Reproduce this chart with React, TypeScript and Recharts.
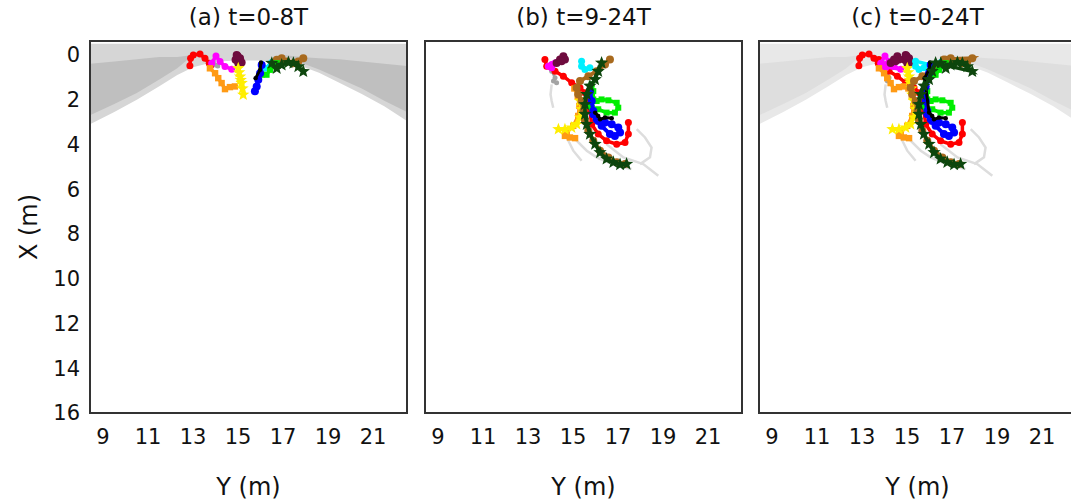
import React from 'react';
import { ComposedChart, Scatter, Area, XAxis, YAxis, ReferenceArea } from 'recharts';

type Pt = [number, number]; // [Y (m), X (m)]

const yTicks = [9, 11, 13, 15, 17, 19, 21];
const xTicks = [0, 2, 4, 6, 8, 10, 12, 14, 16];
const titles = ['(a) t=0-8T', '(b) t=9-24T', '(c) t=0-24T'];

// gray cloud of all drifter positions (panels a and c)
const bandY = [8.42, 9.5, 10.5, 11.5, 12.3, 13.0, 14.0, 15.0, 16.0, 17.0, 17.8, 18.6, 19.5, 20.5, 21.5, 22.51];
const bandTop = [-0.5, -0.5, -0.5, -0.5, -0.5, -0.5, -0.5, -0.5, -0.5, -0.5, -0.5, -0.5, -0.5, -0.5, -0.5, -0.5];
const bandBottom = [3.1, 2.55, 2.0, 1.4, 0.9, 0.55, 0.3, 0.25, 0.25, 0.35, 0.5, 0.8, 1.25, 1.75, 2.3, 2.95];
const coreTop = [0.4, 0.3, 0.2, 0.1, 0.1, 0.0, 0.0, 0.0, 0.0, 0.0, 0.1, 0.15, 0.2, 0.3, 0.4, 0.5];
const coreBottom = [2.7, 2.2, 1.7, 1.1, 0.6, 0.0, 0.0, 0.0, 0.0, 0.0, 0.35, 0.65, 1.05, 1.5, 2.05, 2.55];

// t = 0-8T
const redA: Pt[] = [[12.86, 0.49], [12.89, 0.15], [13.01, 0.0], [13.31, -0.04], [13.53, 0.15], [13.72, 0.37], [13.78, 0.49]];
const magentaA: Pt[] = [[13.83, 0.37], [14.02, 0.05], [14.2, 0.3], [14.42, 0.52], [14.72, 0.64]];
const orangeA: Pt[] = [[13.75, 0.6], [13.98, 0.82], [14.12, 1.04], [14.27, 1.26], [14.42, 1.53], [14.64, 1.44], [14.86, 1.41]];
const maroonA: Pt[] = [[14.94, 0.0], [14.89, 0.22], [15.01, 0.37], [15.16, 0.34], [15.09, 0.15], [14.98, 0.05]];
const yellowA: Pt[] = [[15.01, 0.6], [15.05, 0.78], [15.09, 0.97], [15.12, 1.12], [15.16, 1.26], [15.2, 1.5], [15.23, 1.78]];
const blueA: Pt[] = [[16.05, 0.45], [15.98, 0.82], [15.9, 1.11], [15.83, 1.41], [15.75, 1.63]];
const blackA: Pt[] = [[16.02, 0.34], [15.98, 0.67], [15.78, 1.04]];
const cyanA: Pt[] = [[16.5, 0.34], [16.42, 0.52], [16.2, 0.6], [16.05, 0.45]];
const greenA: Pt[] = [[16.72, 0.37], [16.57, 0.52], [16.42, 0.67], [16.27, 0.89], [16.05, 0.89]];
const brownA: Pt[] = [[16.72, 0.22], [16.94, 0.15], [17.16, 0.3], [17.46, 0.37], [17.68, 0.3], [17.9, 0.15]];
const darkGreenA: Pt[] = [[16.5, 0.37], [16.72, 0.6], [16.94, 0.45], [17.24, 0.34], [17.46, 0.37], [17.68, 0.52], [17.9, 0.74]];
const grayA: Pt[] = [[13.9, 0.3], [14.0, 0.45], [14.1, 0.5]];

// t = 9-24T
const redB: Pt[] = [[13.75, 0.21], [13.83, 0.51], [14.2, 0.73], [14.57, 0.95], [14.94, 1.25], [15.31, 1.47], [15.53, 1.69], [15.75, 2.06], [15.75, 2.5], [15.83, 3.1], [16.12, 3.54], [16.49, 3.84], [16.94, 3.99], [17.31, 3.91], [17.46, 3.54], [17.46, 3.02]];
const magentaB: Pt[] = [[13.9, 0.51], [14.05, 0.43], [14.2, 0.36], [14.05, 0.58]];
const maroonB: Pt[] = [[14.27, 0.36], [14.42, 0.21], [14.57, 0.06], [14.64, 0.21], [14.49, 0.28]];
const grayB: Pt[] = [[14.05, 0.73], [14.2, 1.02], [14.13, 1.17], [14.27, 1.25]];
const cyanB: Pt[] = [[15.38, 0.28], [15.38, 0.51], [15.53, 0.65], [15.75, 0.58]];
const brownB: Pt[] = [[16.64, 0.21], [16.42, 0.43], [16.05, 0.73], [15.68, 0.95], [15.31, 1.17], [15.16, 1.47], [15.23, 1.76], [15.38, 2.06], [15.46, 2.51], [15.53, 2.95], [15.68, 3.39], [15.9, 3.84], [16.2, 4.28], [16.57, 4.58], [16.94, 4.8], [17.31, 4.88]];
const darkGreenB: Pt[] = [[16.27, 0.36], [16.12, 0.73], [15.98, 1.1], [15.75, 1.39], [15.61, 1.76], [15.53, 2.21], [15.53, 2.65], [15.61, 3.1], [15.75, 3.54], [15.98, 3.99], [16.2, 4.36], [16.49, 4.65], [16.79, 4.8], [17.09, 4.9], [17.38, 4.88]];
const orangeB: Pt[] = [[15.06, 1.5], [15.21, 1.84], [15.28, 2.28], [15.23, 2.73], [15.01, 3.17], [14.72, 3.47], [14.64, 3.62], [14.86, 3.69], [15.09, 3.72]];
const yellowB: Pt[] = [[15.31, 2.06], [15.38, 2.43], [15.31, 2.8], [15.16, 3.1], [14.94, 3.25], [14.64, 3.32], [14.35, 3.32]];
const greenB: Pt[] = [[15.83, 1.32], [15.9, 1.62], [15.9, 1.99], [16.05, 2.06], [16.27, 1.99], [16.57, 2.03], [16.94, 2.14], [17.01, 2.36], [16.86, 2.58], [16.49, 2.58], [16.12, 2.43], [15.83, 2.36], [15.68, 2.28]];
const blueB: Pt[] = [[15.75, 1.62], [15.83, 2.06], [15.9, 2.51], [16.05, 2.88], [16.27, 3.17], [16.64, 3.54], [16.86, 3.62], [17.09, 3.47], [17.01, 3.25], [16.72, 3.1], [16.42, 3.02], [16.12, 2.95], [15.9, 2.65]];
const blackB: Pt[] = [[15.98, 2.58], [16.12, 2.73], [16.2, 2.88], [16.42, 2.8], [16.72, 2.83]];

// faint gray tracks of other drifters
const faint1: Pt[] = [[14.72, 3.69], [15.01, 4.28], [15.38, 4.73]];
const faint2: Pt[] = [[16.49, 3.99], [17.24, 4.58], [18.12, 4.88], [18.79, 5.4]];
const faint3: Pt[] = [[17.83, 3.32], [18.2, 3.69], [18.49, 4.14], [18.42, 4.58], [17.98, 4.88]];
const faint4: Pt[] = [[14.05, 1.32], [14.0, 1.77], [14.05, 2.06], [14.12, 2.36]];
const faint5: Pt[] = [[15.01, 3.69], [15.61, 4.28], [16.05, 4.58], [16.9, 4.95], [17.6, 5.1]];

type Marker = 'circle' | 'square' | 'star' | 'none';
interface Track { name: string; color: string; marker: Marker; r: number; w: number; a: Pt[]; b: Pt[] }

const tracks: Track[] = [
  { name: 'gray', color: '#a3a3a3', marker: 'circle', r: 2.5, w: 2.5, a: grayA, b: grayB },
  { name: 'red', color: '#ff0000', marker: 'circle', r: 3.5, w: 3.5, a: redA, b: redB },
  { name: 'magenta', color: '#ff00ff', marker: 'circle', r: 3.5, w: 3.5, a: magentaA, b: magentaB },
  { name: 'maroon', color: '#6e0b3e', marker: 'circle', r: 4, w: 3.5, a: maroonA, b: maroonB },
  { name: 'orange', color: '#ff9a14', marker: 'square', r: 3.2, w: 3.5, a: orangeA, b: orangeB },
  { name: 'yellow', color: '#ffee00', marker: 'star', r: 6.5, w: 3.5, a: yellowA, b: yellowB },
  { name: 'cyan', color: '#00f0ff', marker: 'circle', r: 3.5, w: 3.5, a: cyanA, b: cyanB },
  { name: 'brown', color: '#a86a1e', marker: 'circle', r: 4, w: 4, a: brownA, b: brownB },
  { name: 'green', color: '#00ee00', marker: 'square', r: 3, w: 3.5, a: greenA, b: greenB },
  { name: 'blue', color: '#0000ff', marker: 'circle', r: 4, w: 4, a: blueA, b: blueB },
  { name: 'black', color: '#000000', marker: 'circle', r: 2.2, w: 3, a: blackA, b: blackB },
  { name: 'darkgreen', color: '#0d460d', marker: 'star', r: 7, w: 3.5, a: darkGreenA, b: darkGreenB },
];
const faintTracks: Pt[][] = [faint1, faint2, faint3, faint4, faint5];

const FONT = '"DejaVu Sans", sans-serif';
const toPts = (p: Pt[]) => p.map(([y, x]) => ({ y, x }));

function starPath(cx: number, cy: number, r: number) {
  let d = '';
  for (let i = 0; i < 10; i++) {
    const rr = i % 2 === 0 ? r : r * 0.42;
    const ang = -Math.PI / 2 + (i * Math.PI) / 5;
    d += (i === 0 ? 'M' : 'L') + (cx + rr * Math.cos(ang)).toFixed(2) + ',' + (cy + rr * Math.sin(ang)).toFixed(2);
  }
  return d + 'Z';
}

const makeShape = (marker: Marker, color: string, r: number) => (p: any) => {
  const { cx, cy } = p;
  if (marker === 'none' || cx == null) return <g />;
  if (marker === 'star') return <path d={starPath(cx, cy, r)} fill={color} />;
  if (marker === 'square') return <rect x={cx - r} y={cy - r} width={2 * r} height={2 * r} fill={color} />;
  return <circle cx={cx} cy={cy} r={r} fill={color} />;
};

interface PanelProps {
  left: number;
  title: string;
  phase: 'a' | 'b' | 'c';
  showY: boolean;
}

function Panel({ left, title, phase, showY }: PanelProps) {
  const width = showY ? 420 : 340;
  const marginLeft = 10;
  const plotLeft = marginLeft + (showY ? 80 : 0);
  const band = phase !== 'b';
  const bandData = band
    ? bandY.map((y, i) => ({ y, outer: [bandTop[i], bandBottom[i]], core: [coreTop[i], coreBottom[i]] }))
    : [];
  const outerFill = phase === 'a' ? '#d6d6d6' : '#e8e8e8';
  const coreFill = phase === 'a' ? '#bfbfbf' : '#dedede';

  return (
    <div style={{ position: 'absolute', left, top: 0, width, height: 501 }}>
      <div
        style={{
          position: 'absolute',
          left: plotLeft,
          width: 317,
          top: 4,
          textAlign: 'center',
          fontSize: 23,
          color: '#111',
        }}
      >
        {title}
      </div>
      <ComposedChart width={width} height={501} data={bandData} margin={{ top: 41, right: width - plotLeft - 317, bottom: 0, left: marginLeft }}>
        <XAxis
          type="number"
          dataKey="y"
          domain={[8.42, 22.51]}
          ticks={yTicks}
          allowDataOverflow
          axisLine={false}
          tickLine={false}
          tickSize={0}
          tickMargin={16}
          height={88}
          tick={{ fontSize: 21, fill: '#111' }}
          label={{ value: 'Y (m)', position: 'insideBottom', offset: 6, fontSize: 24, fill: '#111' }}
        />
        <YAxis
          type="number"
          dataKey="x"
          reversed
          domain={[-0.62, 16]}
          ticks={xTicks}
          allowDataOverflow
          hide={!showY}
          width={80}
          axisLine={false}
          tickLine={false}
          tickSize={0}
          tickMargin={10}
          tick={{ fontSize: 21, fill: '#111' }}
          label={{ value: 'X (m)', angle: -90, position: 'insideLeft', offset: 18, fontSize: 24, fill: '#111', style: { textAnchor: 'middle' } }}
        />
        {band && (
          <Area type="linear" dataKey="outer" stroke="none" fill={outerFill} fillOpacity={1} dot={false} activeDot={false} isAnimationActive={false} />
        )}
        {band && (
          <Area type="linear" dataKey="core" stroke="none" fill={coreFill} fillOpacity={1} dot={false} activeDot={false} isAnimationActive={false} />
        )}
        {phase !== 'a' &&
          faintTracks.map((f, i) => (
            <Scatter
              key={'f' + i}
              data={toPts(f)}
              line={{ stroke: '#dddddd', strokeWidth: 2.5 }}
              shape={makeShape('none', '#dddddd', 0)}
              isAnimationActive={false}
            />
          ))}
        {tracks.map(t => {
          const pts = phase === 'a' ? t.a : phase === 'b' ? t.b : [...t.a, ...t.b];
          return (
            <Scatter
              key={t.name}
              name={t.name}
              data={toPts(pts)}
              line={{ stroke: t.color, strokeWidth: t.w }}
              shape={makeShape(t.marker, t.color, t.r)}
              isAnimationActive={false}
            />
          );
        })}
        <ReferenceArea x1={8.42} x2={22.51} y1={-0.62} y2={16} fill="none" stroke="#333" strokeWidth={2} />
      </ComposedChart>
    </div>
  );
}

export default function App() {
  return (
    <div
      style={{
        position: 'absolute',
        left: 0,
        top: 0,
        width: 1071,
        height: 501,
        overflow: 'hidden',
        background: '#fff',
        fontFamily: FONT,
      }}
    >
      <Panel left={0} title={titles[0]} phase="a" showY />
      <Panel left={415} title={titles[1]} phase="b" showY={false} />
      <Panel left={749} title={titles[2]} phase="c" showY={false} />
    </div>
  );
}
